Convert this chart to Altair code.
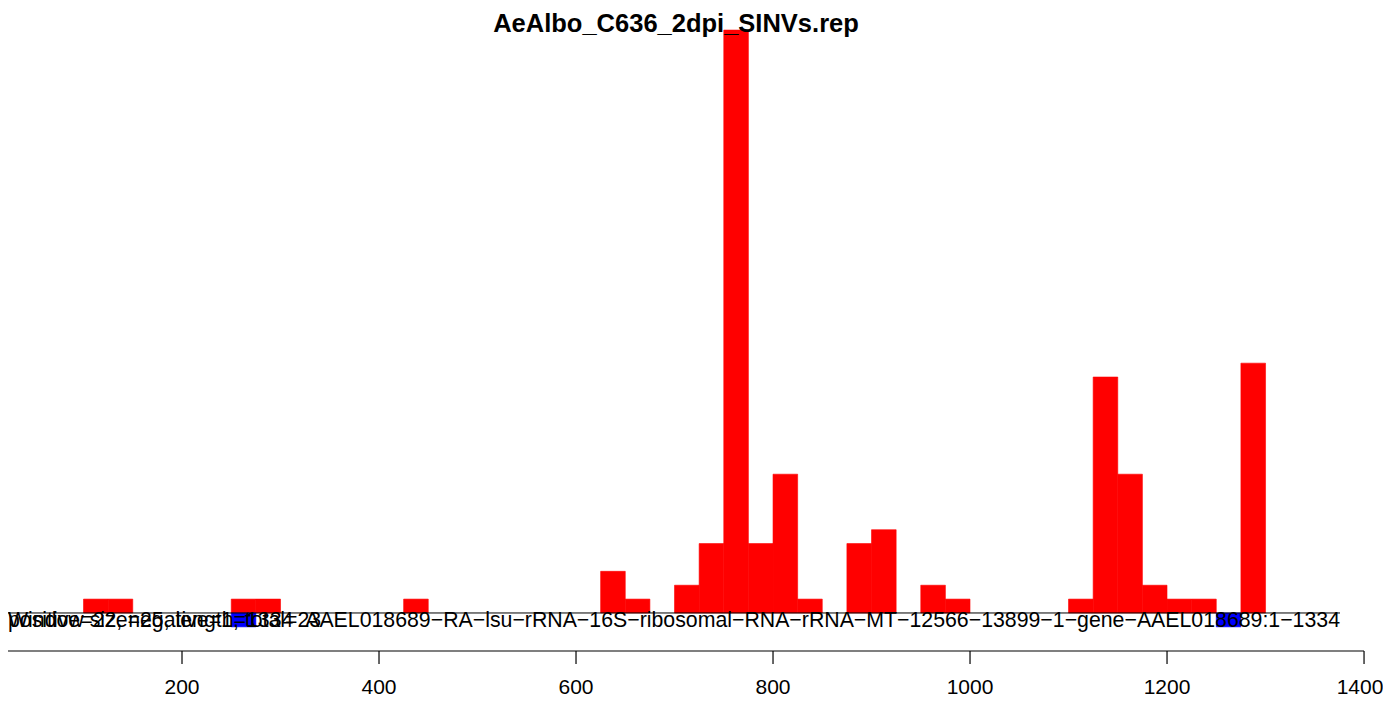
import altair as alt
import pandas as pd

# ---- data ----
window = 25
pos_start = [100, 125, 250, 275, 425, 625, 650, 700, 725, 750, 775, 800, 825,
             875, 900, 950, 975, 1100, 1125, 1150, 1175, 1200, 1225, 1275]
pos_count = [1, 1, 1, 1, 1, 3, 1, 2, 5, 42, 5, 10, 1,
             5, 6, 2, 1, 1, 17, 10, 2, 1, 1, 18]
neg_start = [250, 1250]
neg_count = [-1, -1]

tick_values = [200, 400, 600, 800, 1000, 1200]
last_tick = [1400]

title_text = "AeAlbo_C636_2dpi_SINVs.rep"
label_window = "Window size=25, length=1334"
label_counts = "positive=22, negative=1, total=23"
label_name = ("AAEL018689\u2212RA\u2212lsu\u2212rRNA\u221216S\u2212ribosomal\u2212RNA\u2212rRNA\u2212MT"
              "\u221212566\u221213899\u22121\u2212gene\u2212AAEL018689:1\u22121334")

# ---- tables ----
rows = []
for s, c in zip(pos_start, pos_count):
    rows.append({"start": s, "end": s + window, "count": c, "zero": 0, "strand": "pos"})
for s, c in zip(neg_start, neg_count):
    rows.append({"start": s, "end": s + window, "count": c, "zero": 0, "strand": "neg"})
bars_df = pd.DataFrame(rows)
ticks_df = pd.DataFrame({"v": tick_values + last_tick,
                         "label": [str(t) for t in tick_values + last_tick]})
ticks_main = pd.DataFrame({"v": tick_values, "label": [str(t) for t in tick_values]})
ticks_last = pd.DataFrame({"v": last_tick, "label": [str(t) for t in last_tick]})

FONT = "Liberation Sans"
W = 1375          # whole svg width (autosize none)
H = 692
PLOT_W = 1332     # R plot region width
units_per_px = (1375.6 - 23.35) / PLOT_W
xs = alt.Scale(domain=[23.35, 23.35 + W * units_per_px], nice=False, zero=False)
ys = alt.Scale(domain=[-6.27, 43.59], nice=False, zero=False)
colour_scale = alt.Scale(domain=["pos", "neg"], range=["#FF0000", "#0000FF"])

bars = alt.Chart(bars_df).mark_rect(strokeWidth=0.6).encode(
    x=alt.X("start:Q", scale=xs, axis=None),
    x2="end:Q",
    y=alt.Y("count:Q", scale=ys, axis=None),
    y2="zero:Q",
    color=alt.Color("strand:N", scale=colour_scale, legend=None),
    stroke=alt.Stroke("strand:N", scale=colour_scale, legend=None),
)

baseline = alt.Chart(pd.DataFrame({"y": [0]})).mark_rule(color="black", strokeWidth=1).encode(
    y=alt.Y("y:Q", scale=ys, axis=None),
    x=alt.value(0),
    x2=alt.value(PLOT_W),
)

axis_line = alt.Chart(pd.DataFrame({"a": [0]})).mark_rule(color="black", strokeWidth=1.2).encode(
    x=alt.value(0),
    x2=alt.value(1356),
    y=alt.value(643),
)

axis_ticks = alt.Chart(ticks_df).mark_rule(color="black", strokeWidth=1.2).encode(
    x=alt.X("v:Q", scale=xs, axis=None),
    y=alt.value(643),
    y2=alt.value(656),
)

axis_labels = alt.Chart(ticks_main).mark_text(
    font=FONT, fontSize=21, align="center", baseline="alphabetic", color="black"
).encode(
    x=alt.X("v:Q", scale=xs, axis=None),
    y=alt.value(686),
    text="label:N",
)
axis_label_last = alt.Chart(ticks_last).mark_text(
    font=FONT, fontSize=21, align="center", baseline="alphabetic", color="black", dx=-4
).encode(
    x=alt.X("v:Q", scale=xs, axis=None),
    y=alt.value(686),
    text="label:N",
)

def text_layer(txt, x, y, align, size=21.3, weight="normal"):
    return alt.Chart(pd.DataFrame({"t": [txt]})).mark_text(
        font=FONT, fontSize=size, align=align, baseline="alphabetic",
        color="black", fontWeight=weight
    ).encode(x=alt.value(x), y=alt.value(y), text="t:N")

t1 = text_layer(label_window, 0, 619, "left")
t2 = text_layer(label_counts, 0, 619, "left")
t3 = text_layer(label_name, PLOT_W, 619, "right")
title = text_layer(title_text, 668, 23.5, "center", size=25.5, weight="bold")

chart = alt.layer(bars, baseline, axis_line, axis_ticks, axis_labels, axis_label_last,
                  t1, t2, t3, title).properties(
    width=W, height=H,
    padding={"left": 0, "top": 0, "right": 0, "bottom": 0},
    autosize=alt.AutoSizeParams(type="none"),
).configure_view(stroke=None)

chart.save("out.html", embed_options={"renderer": "svg", "actions": False})
